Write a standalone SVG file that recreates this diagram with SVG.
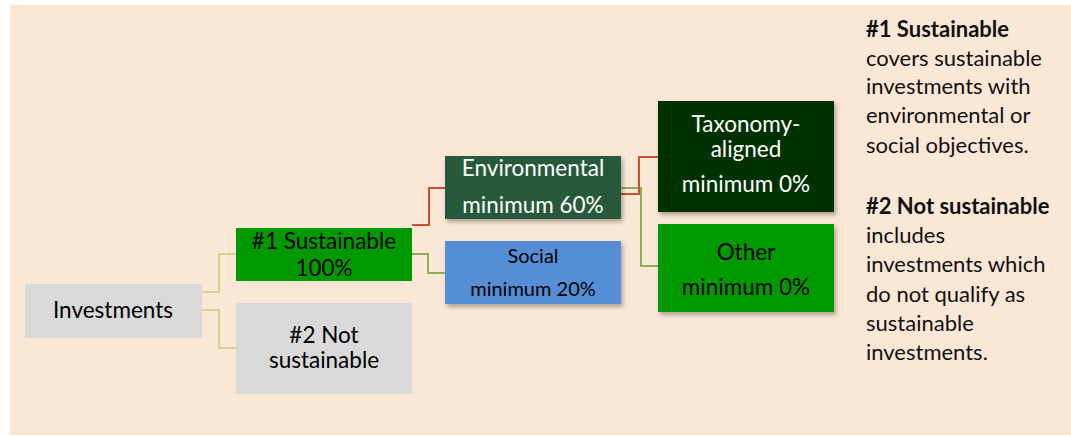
<svg xmlns="http://www.w3.org/2000/svg" width="1071" height="436" viewBox="0 0 1071 436">
<defs>
<filter id="sh" x="-10%" y="-10%" width="125%" height="130%">
<feDropShadow dx="2" dy="3" stdDeviation="2" flood-color="#000" flood-opacity="0.3"/>
</filter>
<style>
text{font-family:Lato,"Liberation Sans",sans-serif;text-anchor:middle}
.w{fill:#ffffff}
.k{fill:#000000}
.n{font-size:22.5px}
.s{font-size:20px}
.r{text-anchor:start;font-size:22px;fill:#111}
.b{font-weight:bold}
.c{fill:none;stroke-width:2}
</style>
</defs>
<rect x="0" y="0" width="1071" height="436" fill="#ffffff"/>
<rect x="10" y="5" width="1061" height="430" fill="#fae7d6"/>
<g id="connectors">
<polyline class="c" stroke="#d6d08e" points="202,292 219,292 219,254 236,254"/>
<polyline class="c" stroke="#d6d08e" points="202,310 219,310 219,348 236,348"/>
<polyline class="c" stroke="#c8502f" points="412,225 429,225 429,188 445,188"/>
<polyline class="c" stroke="#8fad55" points="412,254 428,254 428,273 445,273"/>
<polyline class="c" stroke="#8fad55" points="621,188 641,188 641,266 658,266"/>
<polyline class="c" stroke="#c8502f" points="621,194 639,194 639,157 658,157"/>
</g>
<g id="investments">
<rect x="25" y="284" width="177" height="54" fill="#d9d9d9"/>
<text class="n k" x="113" y="318">Investments</text>
</g>
<g id="sustainable">
<rect x="236" y="228" width="176" height="53" fill="#009900"/>
<text class="n k" x="324" y="249">#1 Sustainable</text>
<text class="n k" x="324" y="276">100%</text>
</g>
<g id="not-sustainable">
<rect x="236" y="303" width="176" height="91" fill="#d9d9d9"/>
<text class="n k" x="324" y="343">#2 Not</text>
<text class="n k" x="324" y="368">sustainable</text>
</g>
<g id="environmental">
<rect x="445" y="156" width="176" height="63" fill="#265a3b" filter="url(#sh)"/>
<text class="n w" x="533" y="176">Environmental</text>
<text class="n w" x="533" y="213">minimum 60%</text>
</g>
<g id="social">
<rect x="445" y="241" width="176" height="63" fill="#558ed5" filter="url(#sh)"/>
<text class="s k" x="533" y="263">Social</text>
<text class="s k" x="533" y="296">minimum 20%</text>
</g>
<g id="taxonomy">
<rect x="658" y="101" width="176" height="111" fill="#013300" filter="url(#sh)"/>
<text class="n w" x="746" y="132">Taxonomy-</text>
<text class="n w" x="746" y="157">aligned</text>
<text class="n w" x="746" y="192">minimum 0%</text>
</g>
<g id="other">
<rect x="658" y="224" width="176" height="88" fill="#009900" filter="url(#sh)"/>
<text class="n k" x="746" y="260">Other</text>
<text class="n k" x="746" y="295">minimum 0%</text>
</g>
<g id="legend">
<text class="r b" x="866" y="37">#1 Sustainable</text>
<text class="r" x="866" y="66">covers sustainable</text>
<text class="r" x="866" y="94">investments with</text>
<text class="r" x="866" y="123">environmental or</text>
<text class="r" x="866" y="153">social objectives.</text>
<text class="r b" x="866" y="214">#2 Not sustainable</text>
<text class="r" x="866" y="243">includes</text>
<text class="r" x="866" y="272">investments which</text>
<text class="r" x="866" y="302">do not qualify as</text>
<text class="r" x="866" y="331">sustainable</text>
<text class="r" x="866" y="360">investments.</text>
</g>
</svg>
